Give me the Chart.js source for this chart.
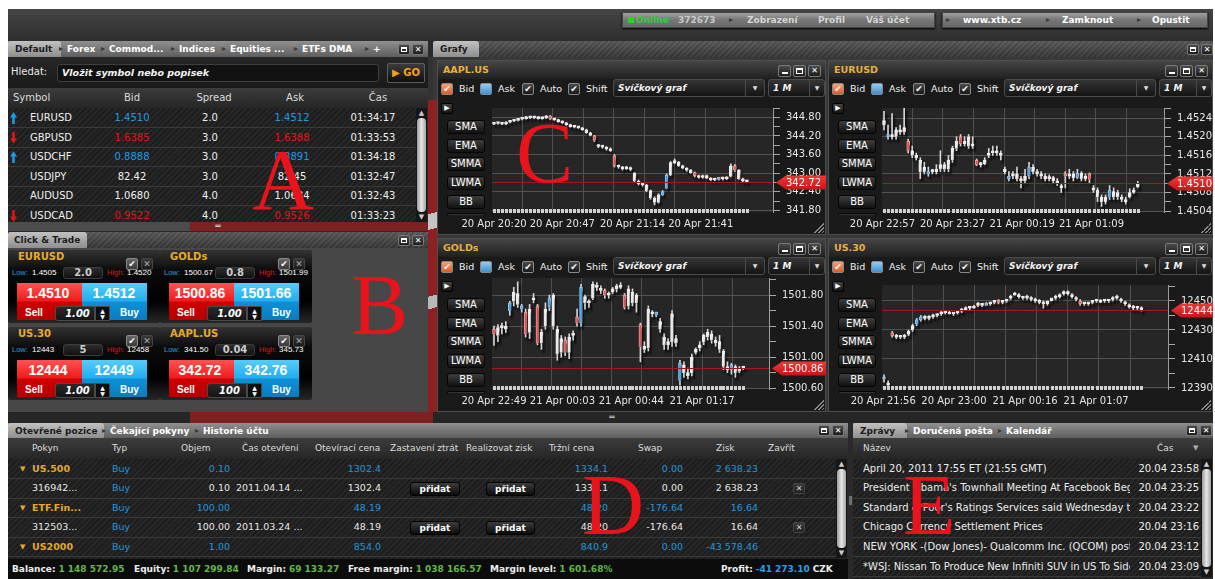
<!DOCTYPE html>
<html>
<head>
<meta charset="utf-8">
<title>xStation</title>
<script src="https://cdn.jsdelivr.net/npm/chart.js@4.4.1/dist/chart.umd.min.js"></script>
<style>
* { box-sizing: border-box; margin: 0; padding: 0; }
html, body { width: 1215px; height: 579px; overflow: hidden; background: #fff; }
body { position: relative; font-family: "DejaVu Sans", Verdana, sans-serif; font-size: 10px; color: #e6e6e6; }
.abs { position: absolute; }
.tx { position: absolute; line-height: 14px; height: 14px; white-space: nowrap; }
.tbar { background: linear-gradient(#909090, #5e5e5e); }
.tbar.dark { background: repeating-linear-gradient(135deg, rgba(255,255,255,.05) 0 2px, rgba(0,0,0,.06) 2px 4px), linear-gradient(#575757, #363636); }
.tabon { background: linear-gradient(#c2c2c2, #8e8e8e); border-radius: 3px 3px 0 0; }
.wbtn { background: linear-gradient(#4a4a4a, #1c1c1c); border: 1px solid #7a7a7a; border-radius: 2px; color: #fff; font-size: 8px; line-height: 9px; text-align: center; }
.rows { background: repeating-linear-gradient(135deg, #272727 0 2px, #1d1d1d 2px 4px); }
.hdr { background: linear-gradient(#3c3c3c, #262626); }
.card { background: linear-gradient(#333, #0b0b0b 28%, #000 70%, #272727); border-radius: 2px; }
.sell { background: linear-gradient(#ff5252, #f01c1c 48%, #cf0000 52%, #b50000); }
.buy { background: linear-gradient(#57cdf8, #22aef0 48%, #0d90d6 52%, #0a7bc0); }
.cwin { background: #1a1a1a; border: 1px solid #4e4e4e; }
.ctitle { background: linear-gradient(#454545, #202020); }
.cbx { border: 1px solid #8a8a8a; border-radius: 2px; color: #fff; font-size: 9px; line-height: 10px; text-align: center; }
.dd { background: linear-gradient(#353535, #141414); border: 1px solid #4c4c4c; border-radius: 3px; }
.sbtn { background: linear-gradient(#3e3e3e, #111); border: 1px solid #050505; border-radius: 3px; color: #fff; font-size: 10px; line-height: 12px; text-align: center; }
.pbtn { background: linear-gradient(#3c3c3c, #0b0b0b); border: 1px solid #000; border-radius: 3px; color: #fff; font-weight: bold; font-size: 9px; line-height: 12px; text-align: center; }
.big { position: absolute; font-family: "Liberation Serif", "DejaVu Serif", serif; font-size: 86px; line-height: 86px; color: #e8141c; }
.cs { font-family: "Liberation Sans", Arial, sans-serif; }
</style>
</head>
<body>
<script>
// market watch
const watchSymbols = ["EURUSD", "GBPUSD", "USDCHF", "USDJPY", "AUDUSD", "USDCAD"];
const watchBid = ["1.4510", "1.6385", "0.8888", "82.42", "1.0680", "0.9522"];
const watchSpread = ["2.0", "3.0", "3.0", "3.0", "4.0", "4.0"];
const watchAsk = ["1.4512", "1.6388", "0.8891", "82.45", "1.0684", "0.9526"];
const watchTime = ["01:34:17", "01:33:53", "01:34:18", "01:32:47", "01:32:43", "01:33:23"];
const watchTrend = [1, -1, 1, 0, 0, -1];

// click & trade
const cardSymbols = ["EURUSD", "GOLDs", "US.30", "AAPL.US"];
const cardLow = ["1.4505", "1500.67", "12443", "341.50"];
const cardSpread = ["2.0", "0.8", "5", "0.04"];
const cardHigh = ["1.4520", "1501.99", "12458", "345.73"];
const cardSell = ["1.4510", "1500.86", "12444", "342.72"];
const cardBuy = ["1.4512", "1501.66", "12449", "342.76"];
const cardLot = ["1.00", "1.00", "1.00", "100"];

// candles [open, high, low, close]
const aaplOhlc = [
  [344.58,344.64,344.56,344.60],[344.60,344.64,344.58,344.62],[344.62,344.64,344.56,344.58],[344.58,344.66,344.56,344.64],
  [344.64,344.70,344.62,344.68],[344.68,344.72,344.66,344.70],[344.70,344.76,344.68,344.74],[344.74,344.78,344.72,344.76],
  [344.76,344.82,344.74,344.80],[344.80,344.82,344.76,344.78],[344.78,344.82,344.76,344.80],[344.80,344.82,344.74,344.76],
  [344.76,344.80,344.74,344.78],[344.78,344.86,344.76,344.82],[344.84,344.86,344.72,344.74],[344.74,344.76,344.70,344.72],
  [344.72,344.74,344.64,344.66],[344.66,344.68,344.60,344.62],[344.62,344.64,344.54,344.56],[344.56,344.58,344.48,344.50],
  [344.50,344.52,344.46,344.48],[344.48,344.50,344.44,344.46],[344.46,344.48,344.38,344.40],[344.40,344.42,344.28,344.30],
  [344.30,344.32,344.20,344.22],[344.20,344.22,344.02,344.06],[343.90,343.92,343.82,343.86],[343.86,343.90,343.80,343.84],
  [343.84,343.86,343.74,343.78],[343.78,343.82,343.70,343.72],[343.56,343.60,343.20,343.24],[343.24,343.26,343.16,343.20],
  [343.20,343.22,343.10,343.14],[343.14,343.22,343.12,343.18],[343.18,343.20,343.08,343.12],[343.00,343.02,342.70,342.74],
  [342.74,342.78,342.62,342.66],[342.66,342.70,342.58,342.62],[342.62,342.64,342.40,342.44],[342.44,342.46,342.16,342.20],
  [342.20,342.24,341.98,342.06],[342.06,342.34,342.04,342.30],[342.30,342.44,342.28,342.40],[342.52,342.98,342.50,342.94],
  [342.94,343.38,342.92,343.34],[343.34,343.46,343.30,343.40],[343.36,343.38,343.22,343.24],[343.24,343.26,343.14,343.16],
  [343.16,343.18,343.06,343.10],[343.10,343.12,343.00,343.02],[343.02,343.04,342.88,342.92],[342.92,342.94,342.84,342.86],
  [342.86,342.94,342.84,342.92],[342.92,342.94,342.82,342.84],[342.84,342.86,342.76,342.78],[342.78,342.84,342.76,342.80],
  [342.80,342.86,342.78,342.84],[342.84,342.86,342.78,342.82],[342.82,342.88,342.80,342.86],[342.90,343.30,342.88,343.24],
  [343.24,343.28,343.06,343.10],[343.10,343.12,342.80,342.82],[342.82,342.84,342.72,342.74],[342.74,342.78,342.70,342.72]
];
const eurOhlc = [
  [1.45235,1.45255,1.45215,1.45225],[1.45200,1.45225,1.45195,1.45205],[1.45205,1.45250,1.45195,1.45200],[1.45200,1.45220,1.45195,1.45215],
  [1.45215,1.45225,1.45205,1.45210],[1.45210,1.45262,1.45205,1.45220],[1.45190,1.45195,1.45165,1.45170],[1.45170,1.45180,1.45155,1.45160],
  [1.45160,1.45165,1.45150,1.45155],[1.45150,1.45155,1.45110,1.45125],[1.45125,1.45145,1.45120,1.45135],[1.45120,1.45135,1.45115,1.45125],
  [1.45125,1.45130,1.45120,1.45125],[1.45125,1.45140,1.45120,1.45130],[1.45130,1.45170,1.45125,1.45140],[1.45140,1.45145,1.45125,1.45130],
  [1.45130,1.45160,1.45125,1.45150],[1.45150,1.45180,1.45145,1.45175],[1.45175,1.45200,1.45170,1.45190],[1.45200,1.45205,1.45180,1.45185],
  [1.45185,1.45200,1.45180,1.45190],[1.45200,1.45205,1.45175,1.45180],[1.45180,1.45200,1.45175,1.45185],[1.45150,1.45152,1.45138,1.45140],
  [1.45140,1.45145,1.45135,1.45142],[1.45142,1.45155,1.45140,1.45150],[1.45160,1.45175,1.45155,1.45165],[1.45165,1.45180,1.45160,1.45170],
  [1.45170,1.45180,1.45160,1.45165],[1.45165,1.45170,1.45150,1.45160],[1.45130,1.45135,1.45120,1.45125],[1.45110,1.45125,1.45105,1.45115],
  [1.45115,1.45125,1.45110,1.45120],[1.45120,1.45135,1.45105,1.45110],[1.45110,1.45115,1.45090,1.45105],[1.45105,1.45130,1.45100,1.45115],
  [1.45115,1.45145,1.45110,1.45135],[1.45135,1.45140,1.45120,1.45125],[1.45125,1.45130,1.45115,1.45120],[1.45120,1.45125,1.45110,1.45115],
  [1.45115,1.45120,1.45105,1.45110],[1.45110,1.45118,1.45105,1.45112],[1.45112,1.45115,1.45100,1.45105],[1.45105,1.45110,1.45095,1.45100],
  [1.45095,1.45100,1.45080,1.45090],[1.45120,1.45125,1.45090,1.45115],[1.45115,1.45130,1.45110,1.45120],[1.45120,1.45125,1.45105,1.45112],
  [1.45112,1.45130,1.45110,1.45122],[1.45122,1.45125,1.45105,1.45110],[1.45110,1.45120,1.45105,1.45115],[1.45120,1.45122,1.45100,1.45108],
  [1.45090,1.45095,1.45080,1.45085],[1.45085,1.45090,1.45060,1.45070],[1.45070,1.45075,1.45050,1.45060],[1.45060,1.45075,1.45055,1.45070],
  [1.45070,1.45095,1.45065,1.45085],[1.45070,1.45090,1.45065,1.45082],[1.45080,1.45085,1.45065,1.45070],[1.45070,1.45075,1.45060,1.45065],
  [1.45065,1.45070,1.45055,1.45060],[1.45070,1.45088,1.45068,1.45080],[1.45080,1.45090,1.45078,1.45085],[1.45092,1.45104,1.45090,1.45100]
];
const goldOhlc = [
  [1501.36,1501.40,1501.15,1501.30],[1501.28,1501.42,1501.20,1501.38],[1501.38,1501.44,1501.30,1501.40],[1501.40,1501.46,1501.32,1501.36],
  [1501.60,1501.72,1501.54,1501.70],[1501.72,1501.90,1501.66,1501.84],[1501.82,1501.97,1501.64,1501.68],[1501.62,1501.68,1501.58,1501.66],
  [1501.58,1501.62,1501.26,1501.30],[1501.32,1501.68,1501.24,1501.62],[1501.76,1501.82,1501.70,1501.74],[1501.66,1501.68,1501.16,1501.18],
  [1501.18,1501.36,1501.10,1501.32],[1501.40,1501.70,1501.36,1501.62],[1501.64,1501.80,1501.60,1501.76],[1501.80,1501.82,1501.36,1501.40],
  [1501.36,1501.40,1500.96,1501.04],[1501.06,1501.28,1501.00,1501.24],[1501.22,1501.26,1501.02,1501.06],[1501.06,1501.30,1500.98,1501.26],
  [1501.28,1501.34,1501.22,1501.30],[1501.52,1501.62,1501.40,1501.44],[1501.44,1501.94,1501.40,1501.90],[1501.70,1501.80,1501.62,1501.78],
  [1501.70,1501.74,1501.64,1501.72],[1501.76,1501.97,1501.74,1501.94],[1501.92,1501.96,1501.86,1501.90],[1501.88,1501.92,1501.82,1501.86],
  [1501.86,1501.88,1501.76,1501.80],[1501.80,1501.84,1501.76,1501.82],[1501.84,1501.90,1501.82,1501.88],[1501.88,1501.94,1501.84,1501.92],
  [1501.92,1501.96,1501.88,1501.90],[1501.80,1501.82,1501.62,1501.64],[1501.66,1501.92,1501.62,1501.88],[1501.84,1501.88,1501.66,1501.70],
  [1501.70,1501.82,1501.58,1501.80],[1501.42,1501.44,1500.94,1501.14],[1501.14,1501.20,1501.06,1501.10],[1501.12,1501.66,1501.08,1501.62],
  [1501.58,1501.60,1501.52,1501.56],[1501.54,1501.58,1501.52,1501.58],[1501.46,1501.50,1501.32,1501.36],[1501.26,1501.30,1501.10,1501.16],
  [1501.16,1501.24,1501.10,1501.20],[1501.20,1501.60,1501.14,1501.56],[1501.24,1501.28,1501.14,1501.18],[1500.70,1500.96,1500.64,1500.92],
  [1500.90,1500.94,1500.74,1500.80],[1500.80,1500.86,1500.72,1500.76],[1500.80,1501.04,1500.76,1501.00],[1501.06,1501.12,1501.04,1501.10],
  [1501.12,1501.20,1501.08,1501.16],[1501.20,1501.30,1501.16,1501.28],[1501.26,1501.36,1501.22,1501.32],[1501.30,1501.34,1501.18,1501.22],
  [1501.22,1501.26,1501.14,1501.18],[1501.20,1501.28,1501.06,1501.10],[1501.08,1501.10,1500.84,1500.88],[1500.88,1500.94,1500.80,1500.84],
  [1500.84,1500.92,1500.78,1500.90],[1500.88,1500.90,1500.74,1500.80],[1500.82,1500.88,1500.80,1500.86],[1500.86,1500.88,1500.84,1500.86]
];
const us30Ohlc = [
  [12396,12399,12394,12397],[12393,12395,12390,12392],[12428,12429,12425,12426],[12426,12427,12424,12425],
  [12425,12426,12424,12425],[12425,12427,12424,12426],[12427,12430,12426,12429],[12430,12434,12429,12433],
  [12434,12438,12433,12437],[12437,12440,12436,12439],[12439,12440,12437,12438],[12438,12440,12437,12439],
  [12439,12441,12438,12440],[12440,12441,12439,12440],[12441,12443,12440,12442],[12442,12443,12441,12442],
  [12442,12443,12441,12441],[12441,12442,12440,12442],[12442,12443,12441,12442],[12443,12445,12442,12444],
  [12444,12446,12444,12445],[12445,12446,12444,12445],[12445,12447,12445,12446],[12447,12449,12446,12448],
  [12447,12448,12446,12447],[12447,12449,12447,12448],[12448,12449,12447,12448],[12449,12450,12448,12450],
  [12450,12451,12448,12449],[12449,12450,12448,12449],[12450,12451,12449,12451],[12452,12454,12451,12453],
  [12454,12456,12454,12455],[12454,12455,12452,12453],[12452,12453,12451,12452],[12452,12454,12451,12453],
  [12452,12453,12450,12451],[12451,12452,12449,12450],[12450,12451,12448,12449],[12449,12450,12445,12448],
  [12448,12450,12447,12450],[12450,12452,12450,12452],[12452,12454,12451,12453],[12453,12455,12452,12454],
  [12455,12457,12454,12456],[12456,12457,12454,12455],[12454,12455,12452,12453],[12452,12453,12450,12451],
  [12450,12451,12447,12448],[12448,12449,12447,12448],[12448,12449,12447,12448],[12449,12450,12448,12450],
  [12450,12451,12449,12450],[12450,12451,12449,12449],[12450,12451,12449,12450],[12450,12451,12449,12451],
  [12451,12453,12450,12452],[12452,12454,12451,12453],[12451,12452,12449,12450],[12449,12450,12447,12448],
  [12447,12448,12445,12446],[12446,12447,12444,12445],[12445,12446,12444,12445],[12445,12446,12443,12444]
];

// candles drawn in colour (the rest are white)
const aaplBlue = [42, 43, 56], aaplRed = [14, 25, 30, 50, 60];
const eurBlue = [1, 11, 31, 36, 48, 56], eurRed = [6, 19, 23, 45, 51];
const goldBlue = [4, 7, 14, 22, 41, 47, 60], goldRed = [0, 8, 11, 18, 21, 28, 33, 37];
const us30Blue = [0, 8, 9, 25], us30Red = [2, 28, 48];

const aaplTicks = [341.80, 342.40, 343.00, 343.60, 344.20, 344.80];
const eurTicks = [1.4504, 1.4508, 1.4512, 1.4516, 1.4520, 1.4524];
const goldTicks = [1500.60, 1501.00, 1501.40, 1501.80];
const us30Ticks = [12390, 12410, 12430, 12450];

const aaplTimes = ["20 Apr 20:20", "20 Apr 20:47", "20 Apr 21:14", "20 Apr 21:41"];
const eurTimes = ["20 Apr 22:57", "20 Apr 23:27", "21 Apr 00:19", "21 Apr 01:09"];
const goldTimes = ["20 Apr 22:49", "21 Apr 00:03", "21 Apr 00:44", "21 Apr 01:17"];
const us30Times = ["20 Apr 21:56", "20 Apr 23:00", "21 Apr 00:16", "21 Apr 01:07"];
const aaplTimeAt = [0, 17, 34.5, 51.5];
const eurTimeAt = [-0.4, 17, 34.3, 51.5];
const goldTimeAt = [0, 17.3, 34.7, 52.6];
const us30TimeAt = [-0.2, 17.1, 34.5, 51.9];
const gridSlots = [7, 14.6, 22.2, 29.8, 37.4, 45, 52.6, 60.2];

const aaplLast = 342.72, eurLast = 1.4510, goldLast = 1500.86, us30Last = 12444;

// open positions
const posName = ["US.500", "316942...", "ETF.Fin...", "312503...", "US2000"];
const posGroup = [1, 0, 1, 0, 1];
const posVol = ["0.10", "0.10", "100.00", "100.00", "1.00"];
const posTime = ["", "2011.04.14 ...", "", "2011.03.24 ...", ""];
const posOpen = ["1302.4", "1302.4", "48.19", "48.19", "854.0"];
const posMarket = ["1334.1", "1334.1", "48.20", "48.20", "840.9"];
const posSwap = ["0.00", "0.00", "-176.64", "-176.64", "0.00"];
const posProfit = ["2 638.23", "2 638.23", "16.64", "16.64", "-43 578.46"];

const accountLabels = ["Balance:", "Equity:", "Margin:", "Free margin:", "Margin level:"];
const accountValues = ["1 148 572.95", "1 107 299.84", "69 133.27", "1 038 166.57", "1 601.68%"];

const newsTitles = [
  "April 20, 2011 17:55 ET (21:55 GMT)",
  "President Obama's Townhall Meeting At Facebook Begins",
  "Standard & Poor's Ratings Services said Wednesday that",
  "Chicago Currency Settlement Prices",
  "NEW YORK -(Dow Jones)- Qualcomm Inc. (QCOM) posted",
  "*WSJ: Nissan To Produce New Infiniti SUV in US To Sidestep"
];
const newsTimes = ["20.04 23:58", "20.04 23:25", "20.04 23:22", "20.04 23:16", "20.04 23:12", "20.04 23:09"];

const B = document.body;

function box(x, y, w, h, cls, css, html) {
  const d = document.createElement("div");
  d.className = "abs " + (cls || "");
  d.style.cssText = `left:${x}px;top:${y}px;width:${w}px;height:${h}px;` + (css || "");
  if (html != null) d.innerHTML = html;
  B.appendChild(d);
  return d;
}

function t(x, cy, s, css, align, html) {
  const d = document.createElement("div");
  d.className = "tx";
  let pos = `left:${x}px;`;
  if (align === "r") pos = `left:${x - 300}px;width:300px;text-align:right;`;
  if (align === "c") pos = `left:${x - 150}px;width:300px;text-align:center;`;
  d.style.cssText = pos + `top:${cy - 7}px;` + (css || "");
  if (html) d.innerHTML = s; else d.textContent = s;
  B.appendChild(d);
  return d;
}

function winBtns(x, y) {
  box(x, y, 12, 11, "wbtn", "", '<div style="position:absolute;left:2px;top:2px;width:6px;height:5px;border:1px solid #fff;border-top-width:2px"></div>');
  box(x + 14, y, 12, 11, "wbtn", "", "✕");
}

function tabs(x, y, w, h, list, activeW, dark, btnX) {
  box(x, y, w, h, dark ? "tbar dark" : "tbar");
  box(x, y, activeW, h, "tabon");
  const cy = y + h / 2;
  list.forEach((it, i) => {
    if (i > 0) t(it[1] - 8, cy, "▸", "color:#3a3a3a;font-size:8px");
    t(it[1], cy, it[0], "font-weight:bold;font-size:9px;color:" + (i ? "#fff" : "#1c1c1c"));
  });
  winBtns(btnX, y + Math.round((h - 11) / 2));
}

function vscroll(x, y, h) {
  box(x, y, 11, h, "", "background:#161616");
  t(x + 5.5, y + 5, "▲", "color:#ccc;font-size:7px", "c");
  box(x + 1, y + 10, 9, h - 20, "", "background:linear-gradient(90deg,#9c9c9c,#e6e6e6 50%,#a4a4a4);border-radius:4px");
  t(x + 5.5, y + h - 5, "▼", "color:#ccc;font-size:7px", "c");
}

// ---------- frame ----------
box(8, 9, 1205, 570, "", "background:#2a2a2a");
box(8, 9, 1205, 32, "", "background:linear-gradient(#454545,#2e2e2e)");
box(622, 12, 313, 16, "", "background:linear-gradient(#a0a0a0,#767676 50%,#686868);border:1px solid #444;box-shadow:0 1px 2px #000");
box(942, 12, 266, 16, "", "background:linear-gradient(#a0a0a0,#767676 50%,#686868);border:1px solid #444;box-shadow:0 1px 2px #000");
box(628, 17, 6, 6, "", "background:#28d428");
t(636, 20, "Online", "color:#36cf36;font-weight:bold;font-size:9px");
t(678, 20, "372673", "color:#c8c8c8;font-weight:bold;font-size:9px");
[729, 946, 1046, 1137].forEach(x => t(x, 20, "▸", "color:#3a3a3a;font-size:8px"));
t(747, 20, "Zobrazení", "color:#d6d6d6;font-weight:bold;font-size:9px");
t(818, 20, "Profil", "color:#d6d6d6;font-weight:bold;font-size:9px");
t(866, 20, "Váš účet", "color:#d6d6d6;font-weight:bold;font-size:9px");
t(963, 20, "www.xtb.cz", "color:#fff;font-weight:bold;font-size:9px");
t(1062, 20, "Zamknout", "color:#fff;font-weight:bold;font-size:9px");
t(1152, 20, "Opustit", "color:#fff;font-weight:bold;font-size:9px");

// ---------- A: market watch ----------
tabs(8, 41, 420, 16, [["Default", 15], ["Forex", 67], ["Commod...", 109], ["Indices", 179], ["Equities ...", 230], ["ETFs DMA", 302], ["+", 373]], 53, false, 398);
box(8, 57, 420, 31, "", "background:linear-gradient(#272727,#1a1a1a)");
t(11, 72, "Hledat:", "color:#e8e8e8");
box(57, 64, 322, 18, "", "background:#121212;border:1px solid #3e3e3e;border-radius:3px");
t(62, 73, "Vložit symbol nebo popisek", "font-style:italic;font-weight:bold;font-size:9.5px;color:#f2f2f2");
box(387, 63, 38, 20, "", "background:linear-gradient(#3c3c3c,#0e0e0e);border:1px solid #5c5c5c;border-radius:2px");
t(406, 73, "▶ GO", "color:#f3a01c;font-weight:bold;font-size:10px", "c");
box(8, 88, 420, 20, "hdr");
t(13, 98, "Symbol", "color:#dcdcdc");
t(132, 98, "Bid", "color:#dcdcdc", "c");
t(214, 98, "Spread", "color:#dcdcdc", "c");
t(295, 98, "Ask", "color:#dcdcdc", "c");
t(378, 98, "Čas", "color:#dcdcdc", "c");
box(8, 108, 408, 114, "rows");
const UP = "polygon(50% 0,100% 45%,68% 45%,68% 100%,32% 100%,32% 45%,0 45%)";
const DOWN = "polygon(32% 0,68% 0,68% 55%,100% 55%,50% 100%,0 55%,32% 55%)";
watchSymbols.forEach((s, i) => {
  const top = 108 + i * 19.6, cy = top + 10;
  if (i < 5) box(8, top + 19, 408, 1, "", "background:#3a3a3a");
  const col = watchTrend[i] > 0 ? "#1d9be4" : watchTrend[i] < 0 ? "#e01616" : "#f0f0f0";
  if (watchTrend[i]) box(10, cy - 6, 7, 12, "", "background:" + col + ";clip-path:" + (watchTrend[i] > 0 ? UP : DOWN));
  t(30, cy, s, "color:#eee");
  t(132, cy, watchBid[i], "color:" + col, "c");
  t(210, cy, watchSpread[i], "color:#eee", "c");
  t(292, cy, watchAsk[i], "color:" + col, "c");
  t(373, cy, watchTime[i], "color:#eee", "c");
});
vscroll(416, 108, 114);
box(8, 222, 182, 9, "", "background:#4c4c4c");
box(190, 222, 238, 9, "", "background:#7c2222");
t(218, 226, "═", "color:#ddd;font-size:9px", "c");

// ---------- B: click & trade ----------
tabs(8, 232, 420, 16, [["Click & Trade", 14]], 79, true, 398);
box(8, 248, 420, 164, "", "background:#474747");
function card(i, x, y) {
  box(x, y, 152, 73, "card");
  t(x + 10, y + 7, cardSymbols[i], "color:#e9aa2c;font-weight:bold;font-size:10px");
  box(x + 118, y + 8, 12, 12, "cbx", "background:linear-gradient(#666,#3a3a3a)", "✔");
  box(x + 133, y + 8, 12, 12, "cbx", "background:linear-gradient(#3a3a3a,#1a1a1a);border-color:#444;color:#aaa", "✕");
  t(x + 4, y + 23, "Low:", "color:#2a9be0;font-size:7.5px").classList.add("cs");
  t(x + 24, y + 23, cardLow[i], "color:#fff;font-size:8px").classList.add("cs");
  box(x + 55, y + 17, 40, 12, "", "background:linear-gradient(#2c2c2c,#111);border:1px solid #3c3c3c;border-radius:3px;color:#ccc;font-weight:bold;font-size:10px;line-height:10px;text-align:center", cardSpread[i]);
  t(x + 99, y + 23, "High:", "color:#d21c1c;font-size:7.5px").classList.add("cs");
  t(x + 119, y + 23, cardHigh[i], "color:#fff;font-size:8px").classList.add("cs");
  box(x + 9, y + 33, 65, 37, "sell");
  box(x + 74, y + 33, 65, 37, "buy");
  t(x + 40, y + 43, cardSell[i], "color:#fff;font-weight:bold;font-size:14px", "c").classList.add("cs");
  t(x + 106, y + 43, cardBuy[i], "color:#fff;font-weight:bold;font-size:14px", "c").classList.add("cs");
  t(x + 17, y + 63, "Sell", "color:#fff;font-weight:bold;font-size:10px").classList.add("cs");
  t(x + 112, y + 63, "Buy", "color:#fff;font-weight:bold;font-size:10px").classList.add("cs");
  box(x + 47, y + 56, 40, 15, "", "background:linear-gradient(#2a2a2a,#151515);border:1px solid #4a4a4a;border-radius:3px 0 0 3px;color:#fff;font-style:italic;font-weight:bold;font-size:10px;line-height:13px;text-align:center;padding-left:5px", cardLot[i]);
  box(x + 87, y + 56, 15, 15, "", "background:#0e0e0e;border:1px solid #4a4a4a;color:#fff;font-size:6px;line-height:6px;text-align:center;padding-top:1px", "▲<br>▼");
}
card(0, 8, 250);
card(1, 160, 250);
card(2, 8, 327);
card(3, 160, 327);

// ---------- Grafy ----------
tabs(433, 41, 780, 16, [["Grafy", 440]], 46, true, 1187);
box(433, 57, 780, 358, "", "background:#383838");
box(428, 57, 5, 43, "", "background:#333");
box(428, 100, 9, 315, "", "background:linear-gradient(165deg,#8d2020 0 36%,#c4c4c4 36% 41%,#8d2020 41% 62%,#b8b8b8 62% 66%,#8d2020 66%)");

function chartWindow(x, y, w, h, title) {
  box(x, y, w, h, "cwin");
  box(x + 1, y + 1, w - 2, 18, "ctitle");
  t(x + 6, y + 10, title, "color:#eab13a;font-weight:bold;font-size:9.5px");
  box(x + w - 48, y + 5, 13, 12, "wbtn", "", '<div style="position:absolute;left:3px;top:6px;width:6px;height:2px;background:#fff"></div>');
  box(x + w - 33, y + 5, 13, 12, "wbtn", "", '<div style="position:absolute;left:2px;top:2px;width:7px;height:6px;border:1px solid #fff;border-top-width:2px"></div>');
  box(x + w - 18, y + 5, 13, 12, "wbtn", "", "✕");
  box(x + 4, y + 23, 12, 12, "cbx", "background:linear-gradient(#f7a070,#e05a28)", "✔");
  t(x + 22, y + 29, "Bid", "color:#eee;font-size:9.5px");
  box(x + 43, y + 23, 12, 12, "cbx", "background:linear-gradient(#94ccf2,#3f8fd0)");
  t(x + 61, y + 29, "Ask", "color:#eee;font-size:9.5px");
  box(x + 85, y + 23, 12, 12, "cbx", "background:linear-gradient(#4a4a4a,#1a1a1a)", "✔");
  t(x + 103, y + 29, "Auto", "color:#eee;font-size:9.5px");
  box(x + 131, y + 23, 12, 12, "cbx", "background:linear-gradient(#4a4a4a,#1a1a1a)", "✔");
  t(x + 149, y + 29, "Shift", "color:#eee;font-size:9.5px");
  box(x + 176, y + 19, 152, 18, "dd");
  t(x + 181, y + 28, "Svíčkový graf", "color:#f2f2f2;font-style:italic;font-weight:bold;font-size:9px");
  box(x + 308, y + 20, 1, 16, "", "background:#4a4a4a");
  t(x + 318, y + 28, "▼", "color:#ddd;font-size:6px", "c");
  box(x + 331, y + 19, w - 332, 18, "dd");
  t(x + 336, y + 28, "1 M", "color:#f2f2f2;font-style:italic;font-weight:bold;font-size:9px");
  box(x + w - 17, y + 20, 1, 16, "", "background:#4a4a4a");
  t(x + w - 9, y + 28, "▼", "color:#ddd;font-size:6px", "c");
  box(x + 4, y + 43, 12, 11, "", "background:linear-gradient(#444,#151515);border:1px solid #000;border-radius:2px;color:#fff;font-size:7px;line-height:9px;text-align:center", "▶");
  ["SMA", "EMA", "SMMA", "LWMA", "BB"].forEach((s, i) => box(x + 10, y + 60 + i * 18.7, 38, 14, "sbtn", "", s));
  box(x + 10, y + 153, 38, 3, "sbtn", "border-bottom:none");
  box(x + w - 12, y + h - 12, 10, 10, "", "background:linear-gradient(135deg,transparent 50%,#888 50% 57%,transparent 57% 70%,#888 70% 77%,transparent 77% 88%,#888 88% 95%,transparent 95%)");
}

function candleChart(o) {
  const cv = document.createElement("canvas");
  cv.width = o.w;
  cv.height = o.h;
  cv.style.cssText = `position:absolute;left:${o.x}px;top:${o.y}px`;
  B.appendChild(cv);
  const ohlc = o.ohlc;
  const fill = i => (o.blue.includes(i) ? "#4f9fde" : o.red.includes(i) ? "#dc5454" : "#ececec");
  const edge = i => (o.blue.includes(i) ? "#8cc4ee" : o.red.includes(i) ? "#ee9a9a" : "#ededed");
  const axisTicks = () => {
    const tk = o.ticks, step = tk[1] - tk[0], out = [];
    if (tk[0] - step / 2 >= o.min) out.push({ value: tk[0] - step / 2 });
    tk.forEach(v => {
      out.push({ value: v, lab: true });
      if (v + step / 2 <= o.max) out.push({ value: v + step / 2 });
    });
    return out;
  };
  new Chart(cv, {
    type: "bar",
    data: {
      datasets: [
        { data: ohlc.map((c, i) => ({ x: i, y: [c[2], c[1]] })), backgroundColor: "#d4d4d4", barThickness: 1, grouped: false, order: 2 },
        {
          data: ohlc.map((c, i) => ({ x: i, y: [c[0], c[3]] })),
          backgroundColor: ctx => (ctx.dataIndex == null ? "#ececec" : fill(ctx.dataIndex)),
          borderColor: ctx => (ctx.dataIndex == null ? "#ededed" : edge(ctx.dataIndex)),
          borderWidth: 1, borderSkipped: false,
          barThickness: 3, minBarLength: 2, grouped: false, order: 1
        }
      ]
    },
    options: {
      responsive: false,
      animation: false,
      events: [],
      layout: { padding: { left: o.padL, top: o.padT, right: 0, bottom: 0 } },
      plugins: { legend: { display: false }, tooltip: { enabled: false } },
      scales: {
        x: {
          type: "linear", min: -0.5, max: 69.5, offset: false, position: "bottom",
          afterBuildTicks: s => { s.ticks = gridSlots.map(v => ({ value: v })); },
          afterFit: s => { s.height = 0; s.paddingLeft = 0; s.paddingRight = 0; },
          ticks: { display: false, autoSkip: false },
          grid: { color: "#4f4f4f", drawTicks: false, offset: false },
          border: { display: false }
        },
        x2: {
          type: "linear", min: -0.5, max: 69.5, offset: false, position: "bottom",
          afterBuildTicks: s => { s.ticks = o.timeAt.map(v => ({ value: v })); },
          afterFit: s => { s.height = o.h - o.bottom; s.paddingLeft = 0; s.paddingRight = 0; },
          ticks: { autoSkip: false, maxRotation: 0, padding: 6, color: "#e4e4e4", font: { size: 10 }, callback: (v, i) => o.times[i] },
          grid: { display: false, drawTicks: false },
          border: { display: false }
        },
        y: {
          type: "linear", position: "right", min: o.min, max: o.max, beginAtZero: false,
          afterBuildTicks: s => { s.ticks = axisTicks(); },
          afterFit: s => { s.width = o.w - o.right; s.paddingTop = 0; s.paddingBottom = 0; },
          ticks: { autoSkip: false, padding: 6, color: "#e6e6e6", font: { size: 10 }, callback: (v, i, tk) => (tk[i].lab ? v.toFixed(o.dec) : "") },
          grid: { color: c => (c.tick && c.tick.lab ? "#525252" : "rgba(0,0,0,0)"), tickColor: "#a8a8a8", tickLength: 7, drawTicks: true },
          border: { display: true, color: "#9c9c9c" }
        }
      }
    },
    plugins: [{
      id: "candleLook",
      beforeDraw(chart) {
        const a = chart.chartArea, c = chart.ctx;
        c.save();
        c.fillStyle = "#262626";
        c.fillRect(a.left, a.top, a.right - a.left, a.bottom - a.top);
        c.restore();
      },
      beforeDatasetsDraw(chart) {
        const c = chart.ctx;
        c.save();
        c.shadowColor = "rgba(0,0,0,0.9)";
        c.shadowOffsetX = 2;
        c.shadowOffsetY = 3;
        c.shadowBlur = 2;
      },
      afterDatasetsDraw(chart) {
        const c = chart.ctx, a = chart.chartArea, xs = chart.scales.x;
        c.restore();
        c.save();
        c.fillStyle = "#cfcfcf";
        ohlc.forEach((_, i) => {
          const px = Math.round(xs.getPixelForValue(i));
          c.fillRect(px - 1, a.bottom - 3, 3, 4);
        });
        c.restore();
      },
      afterDraw(chart) {
        const c = chart.ctx, a = chart.chartArea, ys = chart.scales.y;
        const py = Math.round(ys.getPixelForValue(o.last)) + 0.5;
        c.save();
        c.strokeStyle = "#a81818";
        c.lineWidth = 1;
        c.beginPath();
        c.moveTo(a.left, py);
        c.lineTo(a.right, py);
        c.stroke();
        const x0 = a.right + 3, x1 = chart.width;
        const g = c.createLinearGradient(0, py - 7, 0, py + 7);
        g.addColorStop(0, "#f03a3a");
        g.addColorStop(1, "#c81414");
        c.fillStyle = g;
        c.beginPath();
        c.moveTo(x0, py);
        c.lineTo(x0 + 10, py - 7);
        c.lineTo(x1, py - 7);
        c.lineTo(x1, py + 7);
        c.lineTo(x0 + 10, py + 7);
        c.closePath();
        c.fill();
        c.fillStyle = "#fff";
        c.font = '10px "DejaVu Sans"';
        c.textBaseline = "middle";
        c.fillText(o.last.toFixed(o.dec), a.right + 13, py + 0.5);
        c.restore();
      }
    }]
  });
}

Chart.defaults.font.family = '"DejaVu Sans", Verdana, sans-serif';

chartWindow(437, 60, 389, 175, "AAPL.US");
chartWindow(828, 60, 385, 175, "EURUSD");
chartWindow(437, 238, 389, 174, "GOLDs");
chartWindow(828, 238, 385, 174, "US.30");

candleChart({ x: 452, y: 100, w: 374, h: 133, padL: 40, padT: 8, right: 321, bottom: 112, ohlc: aaplOhlc, blue: aaplBlue, red: aaplRed, min: 341.75, max: 345.10, ticks: aaplTicks, dec: 2, times: aaplTimes, timeAt: aaplTimeAt, last: aaplLast });
candleChart({ x: 842, y: 100, w: 371, h: 133, padL: 40, padT: 8, right: 322, bottom: 112, ohlc: eurOhlc, blue: eurBlue, red: eurRed, min: 1.45038, max: 1.45262, ticks: eurTicks, dec: 4, times: eurTimes, timeAt: eurTimeAt, last: eurLast });
candleChart({ x: 452, y: 270, w: 374, h: 140, padL: 40, padT: 8, right: 317, bottom: 119, ohlc: goldOhlc, blue: goldBlue, red: goldRed, min: 1500.59, max: 1502.02, ticks: goldTicks, dec: 2, times: goldTimes, timeAt: goldTimeAt, last: goldLast });
candleChart({ x: 842, y: 277, w: 371, h: 133, padL: 40, padT: 8, right: 326, bottom: 112, ohlc: us30Ohlc, blue: us30Blue, red: us30Red, min: 12389.3, max: 12461, ticks: us30Ticks, dec: 0, times: us30Times, timeAt: us30TimeAt, last: us30Last });

// splitter
box(8, 412, 1205, 11, "", "background:#262626");
box(190, 412, 243, 11, "", "background:#7e2121");
t(612, 417, "═", "color:#ccc;font-size:9px", "c");

// ---------- D: positions ----------
tabs(8, 423, 840, 15, [["Otevřené pozice", 15], ["Čekající pokyny", 110], ["Historie účtu", 203]], 96, false, 818);
box(8, 438, 840, 21, "hdr");
[["Pokyn", 32], ["Typ", 112], ["Objem", 181], ["Čas otevření", 242], ["Otevírací cena", 315], ["Tržní cena", 549], ["Swap", 638], ["Zisk", 716], ["Zavřít", 768]]
  .forEach(h => t(h[1], 448, h[0], "color:#dcdcdc;font-size:9px"));
t(390, 448, "Zastavení ztrát", "color:#dcdcdc;font-size:9px;width:70px;overflow:hidden");
t(466, 448, "Realizovat zisk", "color:#dcdcdc;font-size:9px;width:69px;overflow:hidden");
box(8, 459, 828, 100, "rows");
posName.forEach((n, i) => {
  const top = 459 + i * 19.6, cy = top + 9.5;
  box(8, top + 19, 828, 1, "", "background:#3a3a3a");
  const g = posGroup[i], vc = g ? "#1f97de" : "#e6e6e6", f = "font-size:9.5px;";
  if (g) {
    t(20, cy, "▼", "color:#e3a92a;font-size:7px");
    t(32, cy, n, f + "color:#e3a92a;font-weight:bold");
  } else {
    t(32, cy, n, f + "color:#e6e6e6");
  }
  t(112, cy, "Buy", f + "color:#1f97de");
  t(230, cy, posVol[i], f + "color:" + vc, "r");
  if (posTime[i]) t(236, cy, posTime[i], f + "color:#e6e6e6");
  t(381, cy, posOpen[i], f + "color:" + vc, "r");
  if (!g) {
    box(410, top + 3, 50, 14, "pbtn", "", "přidat");
    box(486, top + 3, 49, 14, "pbtn", "", "přidat");
    box(793, top + 4, 12, 11, "wbtn", "background:linear-gradient(#3a3a3a,#222);border-color:#444;color:#ccc", "✕");
  }
  t(608, cy, posMarket[i], f + "color:" + vc, "r");
  t(683, cy, posSwap[i], f + "color:" + vc, "r");
  t(758, cy, posProfit[i], f + "color:" + vc, "r");
});
vscroll(836, 459, 99);
box(8, 559, 840, 20, "", "background:#0c0c0c");
[12, 134, 247, 348, 490].forEach((x, i) =>
  t(x, 569, `<b style="color:#eee">${accountLabels[i]}</b> <b style="color:#62b946">${accountValues[i]}</b>`, "font-size:9px", null, true));
t(721, 569, '<b style="color:#eee">Profit:</b> <b style="color:#2a9fe6">-41 273.10</b> <b style="color:#eee">CZK</b>', "font-size:9px", null, true);

// ---------- E: news ----------
box(848, 423, 5, 156, "", "background:#2a2a2a");
t(850.5, 500, "‖", "color:#aaa;font-size:9px", "c");
tabs(853, 423, 360, 15, [["Zprávy", 860], ["Doručená pošta", 913], ["Kalendář", 1006]], 54, false, 1186);
box(853, 438, 360, 21, "hdr");
t(863, 448, "Název", "color:#dcdcdc;font-size:9px");
t(1157, 448, "Čas", "color:#dcdcdc;font-size:9px");
t(1193, 448, "▼", "color:#aaa;font-size:7px");
box(853, 459, 348, 120, "rows");
newsTitles.forEach((s, i) => {
  const top = 459 + i * 19.6, cy = top + 9.5;
  box(853, top + 19, 348, 1, "", "background:#3a3a3a");
  t(863, cy, s, "color:#ececec;font-size:10px;width:267px;overflow:hidden");
  t(1199, cy, newsTimes[i], "color:#ececec;font-size:10px", "r");
});
vscroll(1201, 459, 118);

// ---------- labels ----------
[["A", 252, 137], ["B", 351, 262], ["C", 516, 110], ["D", 582, 462], ["E", 903, 462]].forEach(l => {
  const d = document.createElement("div");
  d.className = "big";
  d.style.left = l[1] + "px";
  d.style.top = l[2] + "px";
  d.textContent = l[0];
  B.appendChild(d);
});
</script>
</body>
</html>
